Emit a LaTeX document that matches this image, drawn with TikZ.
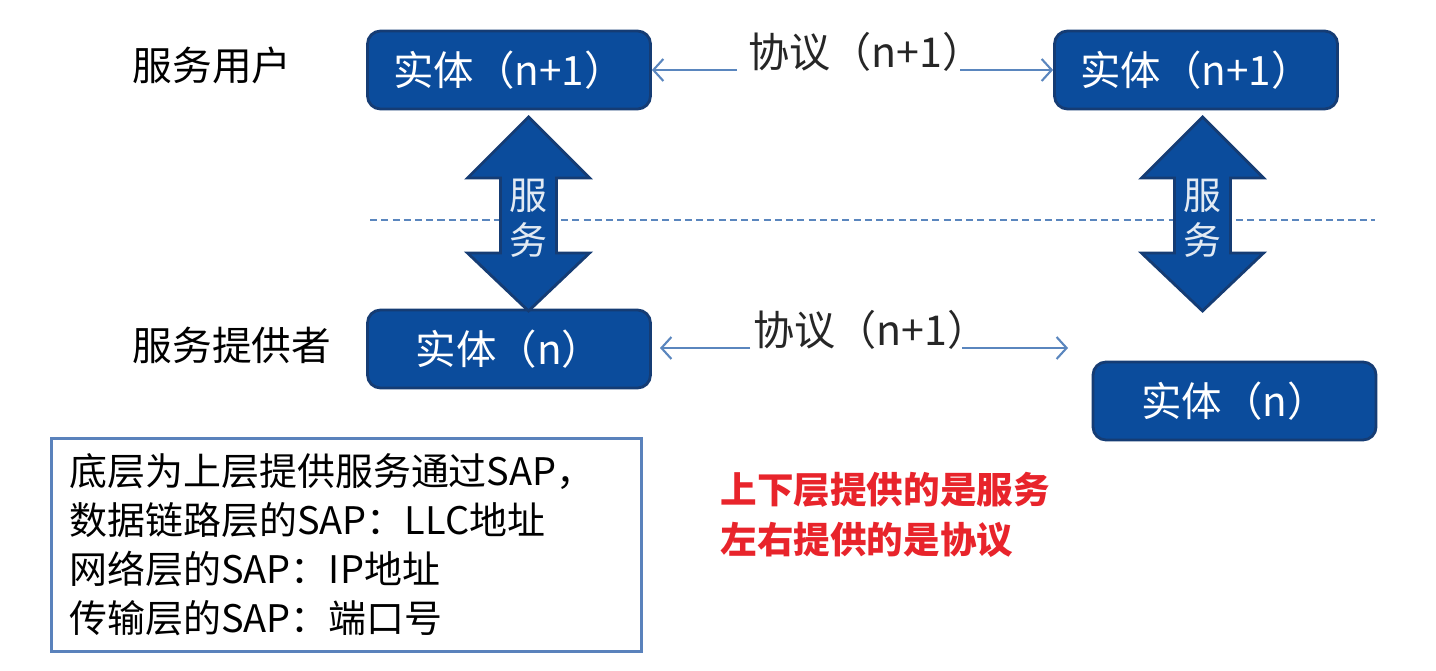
\documentclass[tikz,border=0pt]{standalone}
\usepackage{fontspec}
\setmainfont{Noto Sans CJK SC}
\usetikzlibrary{arrows.meta}
\definecolor{entityblue}{HTML}{0B4C9C}
\definecolor{entityline}{HTML}{153C74}
\definecolor{protoblue}{HTML}{5A86BE}
\definecolor{noteblue}{HTML}{5A82BC}
\definecolor{hintred}{HTML}{E8242B}
\begin{document}
\begin{tikzpicture}
	\tikzstyle{entity}=[rectangle,rounded corners=1.3mm,draw=entityline,line width=0.8pt,fill=entityblue,text=white,minimum width=2.83cm,minimum height=0.78cm,font=\fontsize{11.5}{13}\selectfont]
	\tikzstyle{role}=[anchor=west,inner sep=0pt,font=\fontsize{11.3}{13}\selectfont]
	\tikzstyle{protolabel}=[inner sep=0pt,text=black!85,font=\fontsize{11.7}{13}\selectfont]
	\tikzstyle{proto}=[draw=protoblue,line width=0.6pt,-{Straight Barb[length=1mm,width=2.2mm]}]
	\tikzstyle{service}=[fill=entityblue,draw=entityline,line width=0.8pt]
	\tikzstyle{svctext}=[align=center,inner sep=0pt,text=white!88!entityblue,font=\fontsize{10.8}{12.8}\selectfont]
	\useasboundingbox (0,0) rectangle (14.36,6.70);
	% layer line
	\coordinate (dl) at (3.70,4.50);
	\coordinate (dr) at (13.75,4.50);
	\draw[protoblue,line width=0.6pt,dash pattern=on 2pt off 1.2pt] (dl) -- (dr);
	% entities
	\node [role] (user) at (1.32,6.05) {服务用户};
	\node [role] (provider) at (1.32,3.25) {服务提供者};
	\node [entity] (ul) at (5.09,6.00) {实体（n+1）};
	\node [entity] (ur) at (11.96,6.00) {实体（n+1）};
	\node [entity] (ll) at (5.09,3.21) {实体（n）};
	\node [entity] (lr) at (12.345,2.69) {实体（n）};
	% services
	\foreach \x/\n in {5.285/l,12.025/r} {
		\draw[service] (\x,5.53) -- (\x+0.61,4.92) -- (\x+0.28,4.92) -- (\x+0.28,4.17) -- (\x+0.61,4.17) -- (\x,3.59)
			-- (\x-0.61,4.17) -- (\x-0.28,4.17) -- (\x-0.28,4.92) -- (\x-0.61,4.92) -- cycle;
		\node [svctext] (svc\n) at (\x,4.52) {服\\务};
	}
	% protocols
	\coordinate (pa1) at (7.37,6.00);
	\coordinate (pa2) at (9.60,6.00);
	\coordinate (pb1) at (7.50,3.22);
	\coordinate (pb2) at (6.60,3.22);
	\coordinate (pb3) at (9.62,3.22);
	\coordinate (pb4) at (10.68,3.22);
	\draw[proto] (pa1) -- (ul.east);
	\draw[proto] (pa2) -- (ur.west);
	\draw[proto] (pb1) -- (pb2);
	\draw[proto] (pb3) -- (pb4);
	\node [protolabel] (pt) at (8.66,6.18) {协议（n+1）};
	\node [protolabel] (pb) at (8.71,3.40) {协议（n+1）};
	% notes
	\node [draw=noteblue,line width=0.8pt,minimum width=5.9cm,minimum height=2.13cm,anchor=north west,
		text width=5.54cm,align=left,inner xsep=0.18cm,font=\fontsize{10.8}{13.9}\selectfont] (sap) at (0.50,2.33)
		{底层为上层提供服务通过SAP，\\数据链路层的SAP：LLC地址\\网络层的SAP：IP地址\\传输层的SAP：端口号};
	\node [anchor=west,inner sep=0pt,align=left,text=hintred,font=\fontsize{10.4}{14.2}\selectfont\bfseries] (hint) at (7.20,1.55)
		{上下层提供的是服务\\左右提供的是协议};
\end{tikzpicture}
\end{document}
